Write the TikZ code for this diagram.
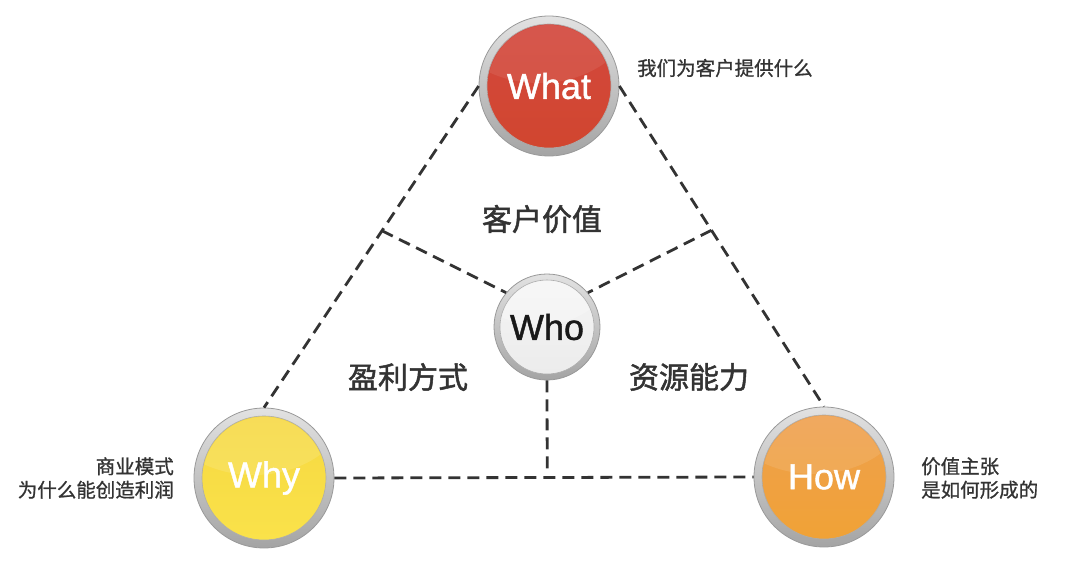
\documentclass[tikz,border=0pt]{standalone}
\usepackage{fontspec}
\setmainfont{Liberation Sans}
\newfontfamily\lab{Liberation Sans}[FakeBold=1.2]
\newfontfamily\cjk{Noto Sans CJK SC}[FakeBold=0.9]
\newfontfamily\cjkbig{Noto Sans CJK SC}[FakeBold=1.6]
\usetikzlibrary{calc}
\definecolor{txt}{HTML}{333333}
\definecolor{linec}{HTML}{333333}
\definecolor{ringlight}{HTML}{E2E2E2}
\definecolor{ringmid}{HTML}{A4A4A4}
\definecolor{ringdark}{HTML}{999999}
\definecolor{redT}{HTML}{D3483E}
\definecolor{redM}{HTML}{C22E1F}
\definecolor{redB}{HTML}{D1462F}
\definecolor{yelT}{HTML}{F6D841}
\definecolor{yelM}{HTML}{F0C030}
\definecolor{yelB}{HTML}{FAE24A}
\definecolor{orT}{HTML}{EFA04E}
\definecolor{orM}{HTML}{E27E28}
\definecolor{orB}{HTML}{F0A236}
\definecolor{grT}{HTML}{F4F4F4}
\definecolor{grM}{HTML}{D4D4D4}
\definecolor{grB}{HTML}{ECECEC}
\begin{document}
\begin{tikzpicture}[x=1pt,y=-1pt,
  ring/.style={circle, minimum size=#1, inner sep=0pt, draw=ringdark, line width=0.8pt,
    top color=ringlight, bottom color=ringmid},
  core/.style={circle, minimum size=#1, inner sep=0pt, draw=ringdark!80, line width=0.6pt},
  lbl/.style={font=\lab\fontsize{36}{40}\selectfont, inner sep=0pt},
  conn/.style={draw=linec, line width=2.8pt, dash pattern=on 12pt off 7pt},
  big/.style={font=\cjkbig\fontsize{30}{34}\selectfont, text=txt, inner sep=0pt},
  small/.style={font=\cjk\fontsize{19.5}{23.5}\selectfont, text=txt, inner sep=0pt}]
\useasboundingbox (0,0) rectangle (1080,562);

% circles
\node[ring=140pt] (what) at (549,86) {};
\node[core=124pt, top color=redT, middle color=redM, bottom color=redB] (whatc) at (what) {};
\node[ring=140pt] (why) at (264,478) {};
\node[core=124pt, top color=yelT, middle color=yelM, bottom color=yelB] (whyc) at (why) {};
\node[ring=140pt] (how) at (824,477) {};
\node[core=124pt, top color=orT, middle color=orM, bottom color=orB] (howc) at (how) {};
\node[ring=106pt] (who) at (547,327) {};
\node[core=94pt, top color=grT, middle color=grM, bottom color=grB] (whoc) at (who) {};

% gloss highlights
\begin{scope}
  \clip (whatc.center) circle (61pt);
  \fill[white, opacity=0.08] ($(whatc.center)+(-10,-75)$) ellipse (95pt and 72pt);
\end{scope}
\begin{scope}
  \clip (whyc.center) circle (61pt);
  \fill[white, opacity=0.12] ($(whyc.center)+(-10,-75)$) ellipse (95pt and 72pt);
\end{scope}
\begin{scope}
  \clip (howc.center) circle (61pt);
  \fill[white, opacity=0.10] ($(howc.center)+(-10,-75)$) ellipse (95pt and 72pt);
\end{scope}
\begin{scope}
  \clip (whoc.center) circle (46pt);
  \fill[white, opacity=0.25] ($(whoc.center)+(-8,-56)$) ellipse (72pt and 54pt);
\end{scope}
\node[lbl, text=white] (whatl) at (whatc) {What};
\node[lbl, text=white] (whyl) at (whyc) {Why};
\node[lbl, text=white] (howl) at (howc) {How};
\node[lbl, text=black!90] (whol) at (whoc) {Who};

% connectors
\coordinate (jl) at ($(what.west)!0.45!(why.north)$);
\coordinate (jr) at ($(what.east)!0.45!(how.north)$);
\coordinate (jb) at ($(why.east)!(who.south)!(how.west)$);
\coordinate (vb) at ($(jb)+(0,-7)$);
\draw[conn] (what.west) -- (why.north);
\draw[conn] (what.east) -- (how.north);
\draw[conn] (why.east) -- (how.west);
\draw[conn] (jl) -- (who.140);
\draw[conn] (jr) -- (who.40);
\draw[conn] (who.south) -- (vb);

% texts
\node[big] (cv) at (542,219) {客户价值};
\node[big] (yl) at (408,377) {盈利方式};
\node[big] (zy) at (689,377) {资源能力};
\node[small, anchor=west] (t1) at (637,68) {我们为客户提供什么};
\node[small, anchor=east, align=right] (t2) at (174,478) {商业模式\\为什么能创造利润};
\node[small, anchor=west, align=left] (t3) at (921,478) {价值主张\\是如何形成的};
\end{tikzpicture}
\end{document}
